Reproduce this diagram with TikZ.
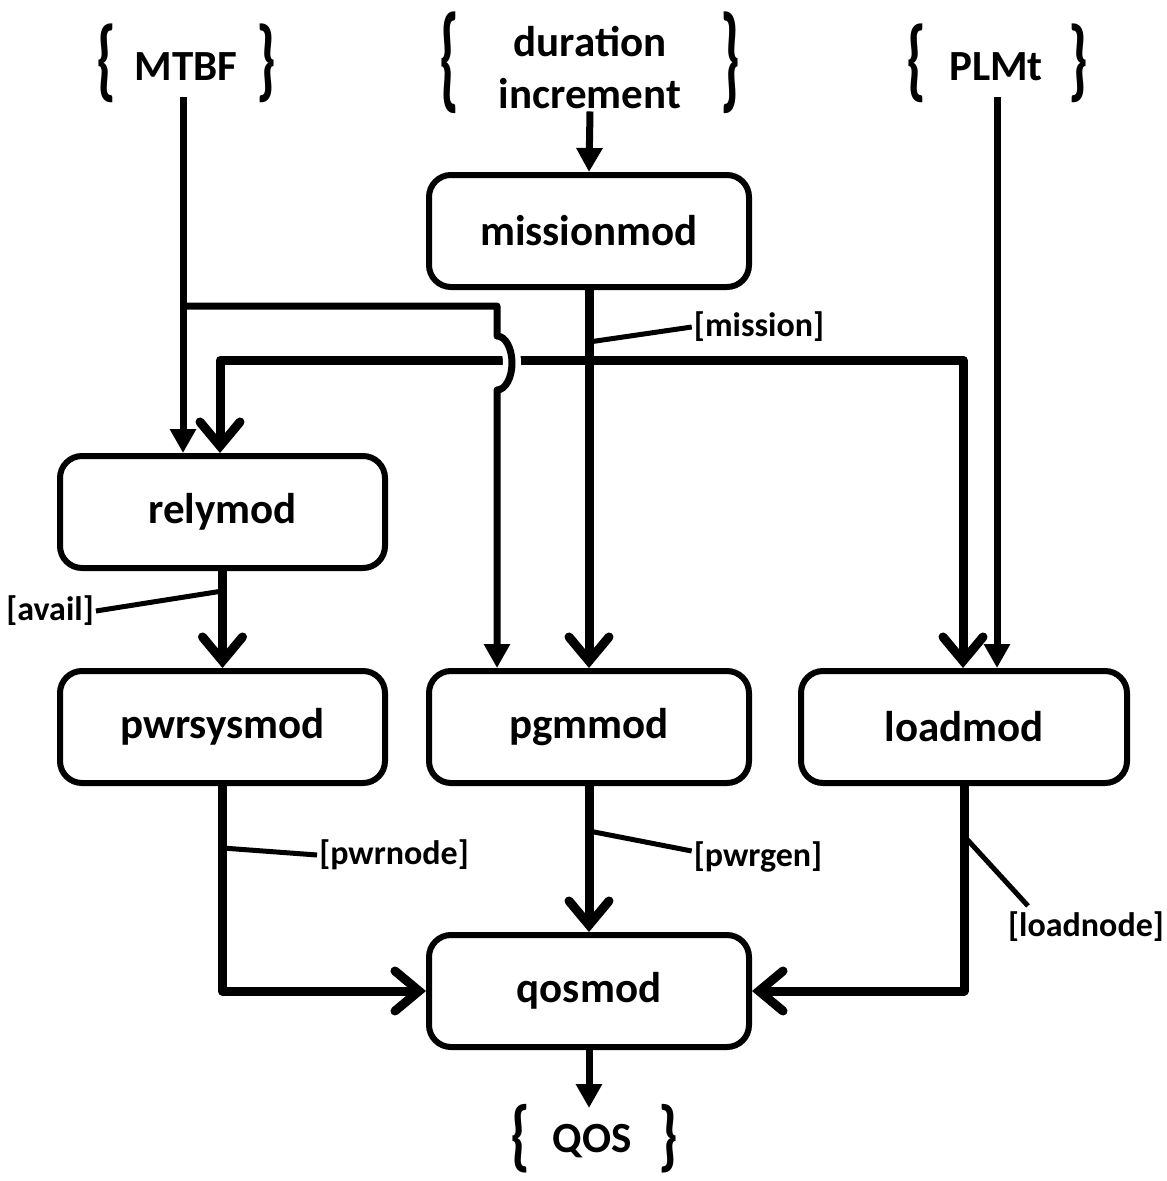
\documentclass[tikz,border=0pt]{standalone}
\usepackage{fontspec}
\setmainfont{Carlito}
\usetikzlibrary{arrows.meta,calc}
\begin{document}
\begin{tikzpicture}[x=1pt,y=-1pt,
  box/.style={draw, line width=6pt, rounded corners=22pt, minimum height=112pt,
    font=\bfseries\fontsize{43}{52}\selectfont, inner sep=0pt},
  txt/.style={font=\bfseries\fontsize{43}{52}\selectfont, inner sep=0pt, align=center},
  bracec/.style={font=\bfseries\fontsize{58}{60}\selectfont, inner sep=0pt},
  lbl/.style={font=\bfseries\fontsize{34}{40}\selectfont, inner sep=2pt},
  feed/.style={line width=7pt, -{Triangle[length=24pt,width=25pt]}},
  flow/.style={line width=9pt, line join=round, -{Straight Barb[length=24pt,width=40pt,line width=9pt,line cap=round]}},
  leader/.style={line width=5pt},
]
\useasboundingbox (0,0) rectangle (1167,1181);

% boxes
\node[box, minimum width=320pt] (mission) at (589,231) {missionmod};
\node[box, minimum width=325pt] (rely) at (222.5,512) {relymod};
\node[box, minimum width=325pt] (pwrsys) at (222.5,727) {pwrsysmod};
\node[box, minimum width=320pt] (pgm) at (589,727) {pgmmod};
\node[box, minimum width=326pt] (load) at (964,727) {loadmod};
\node[box, minimum width=320pt] (qos) at (589,991) {qosmod};

% inputs / outputs
\node[txt] (mtbf) at (186,67) {MTBF};
\node[bracec] (mtbfL) at (106,63) {\scalebox{1}[1.55]{\{}};
\node[bracec] (mtbfR) at (266,63) {\scalebox{1}[1.55]{\}}};
\node[txt] (dur) at (590,68) {duration\\increment};
\node[bracec] (durL) at (449,63) {\scalebox{1}[2.0]{\{}};
\node[bracec] (durR) at (730,63) {\scalebox{1}[2.0]{\}}};
\node[txt] (plmt) at (996,67) {PLMt};
\node[bracec] (plmtL) at (916,63) {\scalebox{1}[1.55]{\{}};
\node[bracec] (plmtR) at (1078,63) {\scalebox{1}[1.55]{\}}};
\node[txt] (qostxt) at (592,1141) {QOS};
\node[bracec] (qosL) at (520,1139) {\scalebox{1}[1.35]{\{}};
\node[bracec] (qosR) at (668,1139) {\scalebox{1}[1.35]{\}}};

% labels
\node[lbl] (lmis) at (759,327) {[mission]};
\node[lbl] (lavail) at (50,611) {[avail]};
\node[lbl] (lpwr) at (394,855) {[pwrnode]};
\node[lbl] (lgen) at (758,857) {[pwrgen]};
\node[lbl] (lload) at (1086,927) {[loadnode]};

% entry coordinates
\coordinate (rIn1) at ($(rely.north)+(-39.5,0)$);
\coordinate (rIn2) at ($(rely.north)+(-2.5,0)$);
\coordinate (pIn1) at ($(pgm.north)+(-92,0)$);
\coordinate (lIn1) at ($(load.north)+(-1,0)$);
\coordinate (lIn2) at ($(load.north)+(33,0)$);
\coordinate (mj) at ($(mission.south)+(0,70)$);
\coordinate (mb) at ($(rIn1)+(0,-147)$);
\coordinate (jt) at ($(mb -| pIn1)+(0,30)$);
\coordinate (qosIn) at ($(qos.south)+(0,58)$);

% thick mission distribution
\draw[flow] (mission.south) -- (pgm.north);
\draw[flow] (mj) -| (rIn2);
\draw[flow] (mj) -| (lIn1);

% MTBF feeds
\draw[feed] ($(mtbf.south -| rIn1)+(0,16)$) -- (rIn1);
\draw[white, line width=18pt] (jt) arc[start angle=-90, end angle=90, x radius=15, y radius=27];
\draw[feed, line join=round] (mb) -- (mb -| pIn1) -- (jt)
   arc[start angle=-90, end angle=90, x radius=15, y radius=27] -- (pIn1);

% other inputs
\draw[feed] ($(dur.south)+(0,2)$) -- (mission.north);
\draw[feed] ($(plmt.south -| lIn2)+(0,16)$) -- (lIn2);

% module flows
\draw[flow] (rely.south) -- (pwrsys.north);
\draw[flow] (pwrsys.south) |- (qos.west);
\draw[flow] (pgm.south) -- (qos.north);
\draw[flow] (load.south) |- (qos.east);
\draw[feed] (qos.south) -- (qosIn);

% leaders
\draw[leader] ($(mission.south)+(0,52)$) -- (lmis.west);
\draw[leader] ($(rely.south)+(0,20)$) -- (lavail.east);
\draw[leader] ($(pwrsys.south)+(0,62)$) -- (lpwr.west);
\draw[leader] ($(pgm.south)+(0,45)$) -- ($(lgen.west)+(0,-6)$);
\draw[leader] ($(load.south)+(0,50)$) -- ($(lload.north west)+(22,-4)$);
\end{tikzpicture}
\end{document}
